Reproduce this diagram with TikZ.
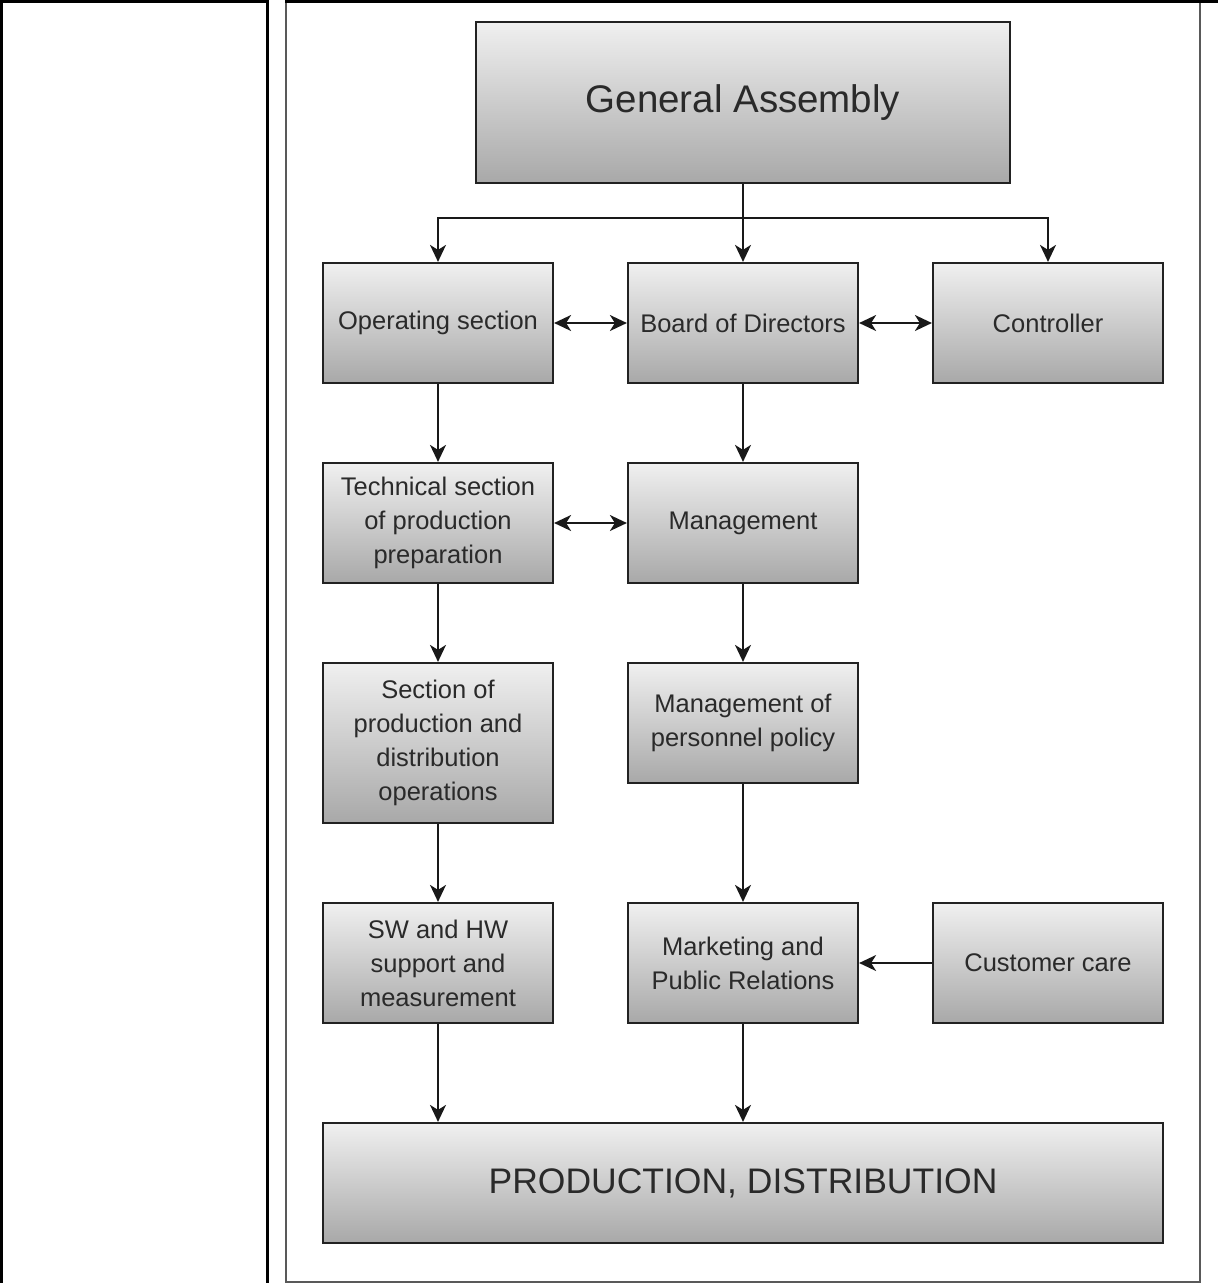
\documentclass[tikz,border=0pt]{standalone}
\usepackage{fontspec}
\setmainfont{Liberation Sans}
\usetikzlibrary{arrows.meta,calc}
\definecolor{txt}{HTML}{2a2a2a}
\definecolor{bord}{HTML}{222222}
\begin{document}
\begin{tikzpicture}[x=1pt,y=-1pt,
  box/.style={draw=bord,line width=2.2pt,rectangle,top color=white!94!black,bottom color=white!66!black,
    minimum width=230pt,minimum height=120pt,inner sep=0pt,align=center,text=txt,
    font=\fontsize{25.5}{34}\selectfont},
  arr/.style={line width=1.8pt,draw=black!90,-{Stealth[length=17pt,width=16pt,inset=5pt]}},
  darr/.style={line width=1.8pt,draw=black!90,{Stealth[length=17pt,width=16pt,inset=5pt]}-{Stealth[length=17pt,width=16pt,inset=5pt]}}
]
\useasboundingbox (0,0) rectangle (1218,1283);
% table lines
\draw[line width=3pt] (0,1.5) -- (267,1.5);
\draw[line width=3pt] (285,1.5) -- (1218,1.5);
\draw[line width=3pt] (1.5,0) -- (1.5,1283);
\draw[line width=3pt] (267,0) -- (267,1283);
\draw[line width=2pt,draw=black!65] (286,3) -- (286,1282) -- (1200,1282) -- (1200,3);
% nodes
\node[box,minimum width=534pt,minimum height=161pt,font=\fontsize{38.5}{44}\selectfont] (ga) at (743,102.5) {General Assembly};
\node[box] (op) at (438,323) {Operating section};
\node[box] (bod) at (743,323) {Board of Directors};
\node[box] (ctrl) at (1048,323) {Controller};
\node[box] (tech) at (438,523) {Technical section\\of production\\preparation};
\node[box] (mgmt) at (743,523) {Management};
\node[box,minimum height=160pt] (sec) at (438,743) {Section of\\production and\\distribution\\operations};
\node[box] (pers) at (743,723) {Management of\\personnel policy};
\node[box] (sw) at (438,963) {SW and HW\\support and\\measurement};
\node[box] (mkt) at (743,963) {Marketing and\\Public Relations};
\node[box] (cc) at (1048,963) {Customer care};
\node[box,minimum width=840pt,font=\fontsize{35.5}{40}\selectfont] (prod) at (743,1183) {PRODUCTION, DISTRIBUTION};
% connectors
\coordinate (split) at (743,218);
\draw[arr] (ga.south) -- (bod.north);
\draw[arr] (split) -| (op.north);
\draw[arr] (split) -| (ctrl.north);
\draw[darr] (op.east) -- (bod.west);
\draw[darr] (bod.east) -- (ctrl.west);
\draw[arr] (op.south) -- (tech.north);
\draw[arr] (bod.south) -- (mgmt.north);
\draw[darr] (tech.east) -- (mgmt.west);
\draw[arr] (tech.south) -- (sec.north);
\draw[arr] (mgmt.south) -- (pers.north);
\draw[arr] (sec.south) -- (sw.north);
\draw[arr] (pers.south) -- (mkt.north);
\draw[arr] (cc.west) -- (mkt.east);
\draw[arr] (sw.south) -- (sw.south |- prod.north);
\draw[arr] (mkt.south) -- (prod.north);
\end{tikzpicture}
\end{document}
